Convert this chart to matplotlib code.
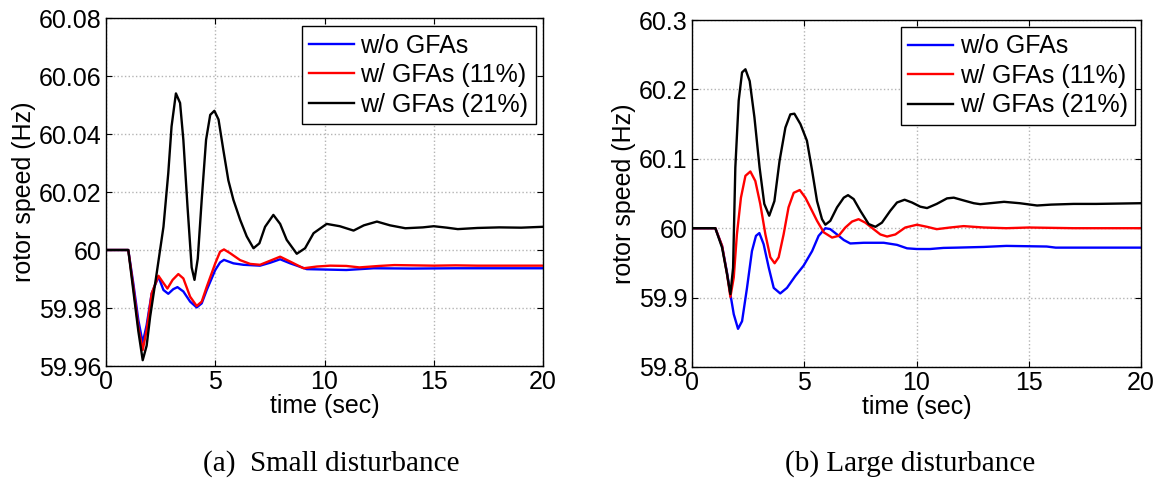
import matplotlib
matplotlib.use("Agg")
import matplotlib.pyplot as plt

# (a) small disturbance
t_a_k = [0, 1.02, 1.25, 1.48, 1.68, 1.86, 2.02, 2.32, 2.63, 2.85, 3.0, 3.2, 3.39, 3.54,
         3.73, 3.92, 4.05, 4.2, 4.38, 4.58, 4.77, 4.96, 5.15, 5.37, 5.6, 5.83, 6.14,
         6.44, 6.75, 7.02, 7.28, 7.66, 7.97, 8.27, 8.73, 9.11, 9.5, 10.1, 10.7, 11.33,
         11.8, 12.4, 13.0, 13.7, 14.5, 15.0, 15.6, 16.1, 17.0, 18.0, 19.0, 20.0]
w_a_k = [60, 60, 59.986, 59.972, 59.962, 59.967, 59.977, 59.992, 60.008, 60.0265,
         60.0426, 60.054, 60.0507, 60.038, 60.015, 59.994, 59.9897, 59.997, 60.0173,
         60.038, 60.0466, 60.048, 60.045, 60.0345, 60.024, 60.0173, 60.0104, 60.0047,
         60.0006, 60.0023, 60.008, 60.0121, 60.009, 60.0035, 59.9987, 60.0006, 60.0058,
         60.009, 60.0082, 60.0067, 60.0085, 60.0098, 60.0085, 60.0075, 60.0078, 60.0082,
         60.0077, 60.0072, 60.0076, 60.0078, 60.0077, 60.008]
t_a_r = [0, 1.02, 1.25, 1.48, 1.68, 1.86, 2.09, 2.4, 2.63, 2.81, 3.05, 3.31, 3.54, 3.85,
         4.15, 4.38, 4.61, 5.0, 5.22, 5.4, 5.68, 6.14, 6.6, 7.05, 7.51, 7.97, 8.43, 9.04,
         9.65, 10.26, 11.0, 11.6, 12.5, 13.2, 15.0, 16.0, 17.0, 20.0]
w_a_r = [60, 60, 59.9873, 59.9735, 59.9655, 59.9724, 59.985, 59.9911, 59.9886, 59.9867,
         59.9897, 59.9917, 59.9902, 59.9839, 59.9807, 59.9822, 59.9873, 59.9954,
         59.9994, 60.0002, 59.9989, 59.9965, 59.9952, 59.9949, 59.9963, 59.9977,
         59.996, 59.9937, 59.9943, 59.9946, 59.9945, 59.994, 59.9945, 59.9948, 59.9946,
         59.9947, 59.9946, 59.9946]
t_a_b = [0, 1.02, 1.25, 1.48, 1.68, 1.86, 2.09, 2.4, 2.63, 2.85, 3.08, 3.27, 3.54, 3.85,
         4.15, 4.38, 4.61, 5.0, 5.22, 5.4, 5.83, 6.29, 7.05, 7.51, 7.97, 8.43, 9.19,
         11.0, 12.25, 14.0, 16.0, 20.0]
w_a_b = [60, 60, 59.9885, 59.9758, 59.968, 59.9741, 59.985, 59.9908, 59.9862, 59.9849,
         59.9865, 59.9872, 59.9857, 59.9822, 59.9802, 59.9816, 59.9862, 59.9931,
         59.9957, 59.9966, 59.9954, 59.9949, 59.9946, 59.9956, 59.9968, 59.9954,
         59.9934, 59.9931, 59.9937, 59.9936, 59.9937, 59.9937]

# (b) large disturbance
t_b_k = [0, 1.04, 1.34, 1.56, 1.71, 1.83, 1.93, 2.08, 2.23, 2.38, 2.57, 2.78, 3.01, 3.22,
         3.44, 3.67, 3.9, 4.16, 4.38, 4.56, 4.83, 5.12, 5.35, 5.57, 5.79, 5.94, 6.16,
         6.46, 6.76, 6.95, 7.2, 7.5, 7.87, 8.17, 8.46, 8.83, 9.13, 9.47, 9.8, 10.17,
         10.47, 10.9, 11.36, 11.66, 12.1, 12.55, 12.84, 13.9, 14.6, 15.37, 16.0, 17.0,
         18.0, 20.0]
w_b_k = [60, 60, 59.972, 59.934, 59.905, 59.943, 60.0875, 60.184, 60.2245, 60.229,
         60.212, 60.16, 60.0875, 60.035, 60.018, 60.039, 60.097, 60.145, 60.164, 60.165,
         60.15, 60.126, 60.083, 60.039, 60.013, 60.005, 60.0106, 60.03, 60.044, 60.0476,
         60.042, 60.025, 60.006, 60.002, 60.008, 60.025, 60.037, 60.041, 60.037, 60.031,
         60.029, 60.035, 60.043, 60.044, 60.040, 60.036, 60.0346, 60.038, 60.036,
         60.0327, 60.034, 60.035, 60.035, 60.036]
t_b_r = [0, 1.04, 1.34, 1.56, 1.71, 1.86, 2.0, 2.18, 2.38, 2.6, 2.82, 3.04, 3.27, 3.49,
         3.68, 3.86, 4.08, 4.3, 4.53, 4.8, 5.05, 5.27, 5.57, 5.87, 6.24, 6.53, 6.83, 7.13,
         7.42, 7.72, 8.09, 8.39, 8.69, 9.06, 9.5, 10.02, 10.47, 10.9, 11.5, 12.1, 13.0,
         14.0, 15.0, 17.0, 20.0]
w_b_r = [60, 60, 59.9745, 59.934, 59.901, 59.929, 59.991, 60.044, 60.0755, 60.0817,
         60.068, 60.035, 59.991, 59.958, 59.9495, 59.958, 59.991, 60.03, 60.051, 60.055,
         60.044, 60.03, 60.0106, 59.994, 59.9865, 59.989, 60.001, 60.0096, 60.013,
         60.008, 59.9986, 59.991, 59.988, 59.991, 60.001, 60.005, 60.002, 59.9986,
         60.001, 60.003, 60.001, 60.0, 60.001, 60.0, 60.0]
t_b_b = [0, 1.04, 1.34, 1.56, 1.71, 1.86, 2.05, 2.23, 2.45, 2.67, 2.85, 3.0, 3.19, 3.42,
         3.64, 3.93, 4.23, 4.6, 4.97, 5.35, 5.64, 5.94, 6.16, 6.46, 6.76, 7.05, 7.65,
         8.54, 9.13, 9.58, 10.02, 10.6, 11.2, 11.8, 13.0, 14.0, 15.8, 16.2, 18.0, 20.0]
w_b_b = [60, 60, 59.9745, 59.936, 59.905, 59.876, 59.855, 59.866, 59.914, 59.967,
         59.989, 59.993, 59.977, 59.943, 59.914, 59.906, 59.914, 59.931, 59.946, 59.967,
         59.989, 60.0, 59.9986, 59.991, 59.983, 59.978, 59.979, 59.979, 59.976, 59.971,
         59.970, 59.970, 59.9716, 59.972, 59.973, 59.9745, 59.9736, 59.972, 59.972,
         59.972]

labels = ["w/o GFAs", "w/ GFAs (11%)", "w/ GFAs (21%)"]
colors = ["#0000ff", "#ff0000", "#000000"]
xticks = [0, 5, 10, 15, 20]
yticks_a = [59.96, 59.98, 60.0, 60.02, 60.04, 60.06, 60.08]
yticklabels_a = ["59.96", "59.98", "60", "60.02", "60.04", "60.06", "60.08"]
yticks_b = [59.8, 59.9, 60.0, 60.1, 60.2, 60.3]
yticklabels_b = ["59.8", "59.9", "60", "60.1", "60.2", "60.3"]
captions = ["(a)  Small disturbance", "(b) Large disturbance"]

plt.rcParams["font.family"] = ["Liberation Sans", "DejaVu Sans"]
FS = 18

W, H = 1158, 483
fig = plt.figure(figsize=(W / 100, H / 100), dpi=100)
ax1 = fig.add_axes([106 / W, 1 - 366 / H, 437 / W, 348 / H])
ax2 = fig.add_axes([692 / W, 1 - 367 / H, 449 / W, 347 / H])

panels = [
    (ax1, [(t_a_b, w_a_b), (t_a_r, w_a_r), (t_a_k, w_a_k)], yticks_a, yticklabels_a,
     (0.984, 0.977)),
    (ax2, [(t_b_b, w_b_b), (t_b_r, w_b_r), (t_b_k, w_b_k)], yticks_b, yticklabels_b,
     (0.987, 0.98)),
]
for ax, series, yt, ytl, anchor in panels:
    for (t, w), c, lab in zip(series, colors, labels):
        ax.plot(t, w, color=c, lw=1.7, label=lab, solid_joinstyle="round")
    ax.set_xlim(0, 20)
    ax.set_ylim(yt[0], yt[-1])
    ax.set_xticks(xticks)
    ax.set_yticks(yt)
    ax.set_yticklabels(ytl)
    ax.grid(True, color="#b4b4b4", ls=":", lw=1.0)
    ax.tick_params(direction="in", top=True, right=True, length=4, width=0.8,
                   labelsize=FS, pad=3)
    for s in ax.spines.values():
        s.set_linewidth(1.0)
    ax.set_xlabel("time (sec)", fontsize=FS, labelpad=0)
    ax.set_ylabel("rotor speed (Hz)", fontsize=FS, labelpad=2)
    leg = ax.legend(loc="upper right", bbox_to_anchor=anchor, borderaxespad=0,
                    fontsize=FS, fancybox=False, edgecolor="black", framealpha=1,
                    handlelength=1.8, handletextpad=0.25, labelspacing=0.22,
                    borderpad=0.3)
    leg.get_frame().set_linewidth(1.0)

fig.text(331 / W, 1 - 464 / H, captions[0], ha="center", va="center",
         fontsize=21, family="Liberation Serif")
fig.text(910 / W, 1 - 464 / H, captions[1], ha="center", va="center",
         fontsize=21, family="Liberation Serif")

fig.savefig("out.png", dpi=100)
